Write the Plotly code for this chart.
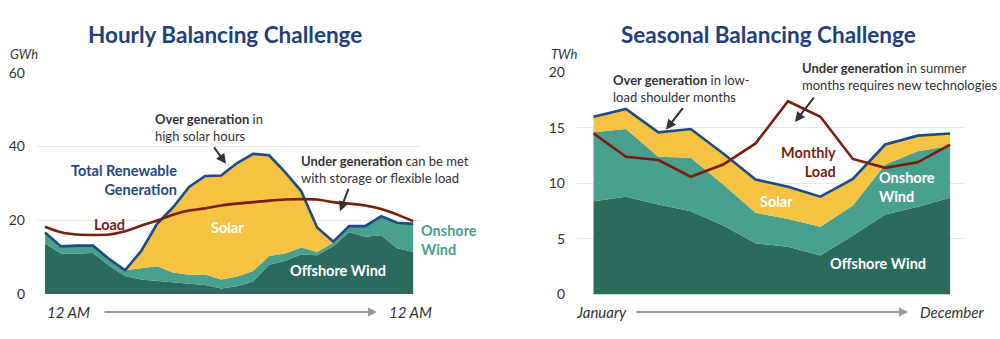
import plotly.graph_objects as go

# ---------------- data: hourly (GWh) ----------------
hours = list(range(24))
hourly_offshore = [13.7, 11.0, 11.0, 11.1, 7.7, 4.9, 3.9, 3.6, 3.3, 2.8, 2.4, 1.5,
                   2.1, 3.4, 7.9, 9.0, 10.7, 10.5, 12.9, 16.7, 15.5, 15.9, 12.4, 11.4]
hourly_onshore = [3.0, 1.9, 2.1, 2.0, 1.8, 1.5, 3.1, 3.9, 2.5, 2.4, 2.9, 2.4,
                  2.6, 2.8, 2.4, 2.0, 1.9, 0.9, 1.0, 1.7, 2.9, 5.2, 6.9, 7.6]
hourly_solar = [0, 0, 0, 0, 0, 0, 4.6, 11.5, 17.7, 23.8, 26.7, 28.2,
                30.8, 31.8, 27.3, 22.0, 15.3, 6.6, 0.3, 0, 0, 0, 0, 0]
hourly_load = [18.2, 16.7, 16.1, 16.0, 16.1, 17.0, 18.5, 19.9, 21.5, 22.6, 23.2, 24.0,
               24.5, 24.9, 25.3, 25.6, 25.7, 25.6, 24.9, 24.5, 24.0, 23.0, 21.5, 19.7]
hourly_ticks = [0, 20, 40, 60]

# ---------------- data: monthly (TWh) ----------------
months = list(range(12))
monthly_offshore = [8.4, 8.8, 8.1, 7.5, 6.2, 4.6, 4.3, 3.5, 5.3, 7.2, 7.9, 8.7]
monthly_onshore = [6.2, 6.1, 4.3, 4.8, 3.7, 2.75, 2.5, 2.6, 2.7, 4.5, 5.0, 4.7]
monthly_solar = [1.4, 1.8, 2.2, 2.6, 2.8, 3.0, 2.9, 2.7, 2.4, 1.8, 1.4, 1.1]
monthly_load = [14.5, 12.4, 12.1, 10.6, 11.7, 13.6, 17.4, 16.0, 12.2, 11.4, 11.9, 13.5]
monthly_ticks = [0, 5, 10, 15, 20]

C_OFF = "#2D6A5E"
C_ON = "#49A18D"
C_SOLAR = "#F5C241"
C_TOTAL = "#1D4B86"
C_LOAD = "#7A1E10"
C_TITLE = "#1F3F7A"
FONT = "Lato, Calibri, sans-serif"

W, H = 1000, 339


def px(x):
    return x / W


def py(y):
    return 1 - y / H


fig = go.Figure()


def add_stack(xs, off, on, sol, load, xa, ya, group, load_shape):
    for vals, col in ((off, C_OFF), (on, C_ON), (sol, C_SOLAR)):
        fig.add_trace(go.Scatter(x=xs, y=vals, stackgroup=group, mode="lines",
                                 line=dict(width=0, color=col), fillcolor=col,
                                 xaxis=xa, yaxis=ya, hoverinfo="skip"))
    total = [a + b + c for a, b, c in zip(off, on, sol)]
    fig.add_trace(go.Scatter(x=xs, y=total, mode="lines",
                             line=dict(width=2.6, color=C_TOTAL),
                             xaxis=xa, yaxis=ya, hoverinfo="skip"))
    fig.add_trace(go.Scatter(x=xs, y=load, mode="lines",
                             line=dict(width=2.6, color=C_LOAD, shape=load_shape,
                                       smoothing=0.8),
                             xaxis=xa, yaxis=ya, hoverinfo="skip"))


add_stack(hours, hourly_offshore, hourly_onshore, hourly_solar, hourly_load,
          "x", "y", "h", "spline")
add_stack(months, monthly_offshore, monthly_onshore, monthly_solar, monthly_load,
          "x2", "y2", "m", "linear")

axis_common = dict(showline=False, zeroline=False, ticks="")
fig.update_layout(
    width=W, height=H, margin=dict(l=0, r=0, t=0, b=0),
    paper_bgcolor="white", plot_bgcolor="white", showlegend=False,
    font=dict(family=FONT, color="#333333"),
    xaxis=dict(domain=[px(37), px(422)], range=[-0.5, 23.55], showgrid=False,
               showticklabels=False, **axis_common),
    yaxis=dict(domain=[py(300), py(67)], range=[0, 60], tickvals=hourly_ticks,
               showgrid=True, gridcolor="#E8E8E8", gridwidth=1,
               tickfont=dict(size=14, color="#333333", family=FONT),
               ticklabelstandoff=11, **axis_common),
    xaxis2=dict(domain=[px(577), px(965)], range=[-0.51, 11.46], showgrid=False,
                showticklabels=False, **axis_common),
    yaxis2=dict(domain=[py(300.5), py(66.7)], range=[0, 20], tickvals=monthly_ticks,
                anchor="x2", showgrid=True, gridcolor="#E8E8E8", gridwidth=1,
                tickfont=dict(size=14, color="#333333", family=FONT),
                ticklabelstandoff=11, **axis_common),
)

ann = []


def text(x, y, t, size=13, color="#333333", xanchor="center", align="center"):
    ann.append(dict(x=px(x), y=py(y), xref="paper", yref="paper", text=t,
                    showarrow=False, xanchor=xanchor, yanchor="middle", align=align,
                    font=dict(size=size, color=color, family=FONT)))


def arrow(x0, y0, x1, y1, color="#333333", width=2, head=2, size=1):
    ann.append(dict(x=px(x1), y=py(y1), xref="paper", yref="paper", text="",
                    showarrow=True, ax=x0 - x1, ay=y0 - y1, axref="pixel", ayref="pixel",
                    arrowcolor=color, arrowwidth=width, arrowhead=head, arrowsize=size))


# titles
text(225, 27, "<b>Hourly Balancing Challenge</b>", size=22.5, color=C_TITLE)
text(768, 27, "<b>Seasonal Balancing Challenge</b>", size=22.5, color=C_TITLE)
# units
text(8, 47, "<i>GWh</i>", size=13, xanchor="left")
text(549, 47, "<i>TWh</i>", size=13, xanchor="left")
# bottom axis text
text(45, 319, "<i>12 AM</i>", size=15, xanchor="left")
text(387, 319, "<i>12 AM</i>", size=15, xanchor="left")
text(574, 319, "<i>January</i>", size=15, xanchor="left")
text(918, 319, "<i>December</i>", size=15, xanchor="left")
arrow(103, 319, 377, 319, color="#9A9A9A", width=1.8, head=2, size=1)
arrow(635, 319, 908, 319, color="#9A9A9A", width=1.8, head=2, size=1)

# left chart labels
text(179, 180, "<b>Total Renewable<br>Generation</b>", size=14.5, color=C_TOTAL,
     xanchor="right", align="right")
text(92, 227, "<b>Load</b>", size=14.5, color=C_LOAD, xanchor="left")
text(227, 230, "<b>Solar</b>", size=14.5, color="white")
text(338, 275, "<b>Offshore Wind</b>", size=14.5, color="white")
text(419, 243, "<b>Onshore<br>Wind</b>", size=14.5, color=C_ON, xanchor="left",
     align="left")
text(153, 125, "<b>Over generation</b> in<br>high solar hours", size=13,
     xanchor="left", align="left")
arrow(213, 145, 226, 163)
text(299, 169, "<b>Under generation</b> can be met<br>with storage or flexible load",
     size=13, xanchor="left", align="left")
arrow(349, 189, 340, 213)

# right chart labels
text(611, 84, "<b>Over generation</b> in low-<br>load shoulder months", size=13,
     xanchor="left", align="left")
arrow(684, 104, 666, 127)
text(800, 71, "<b>Under generation</b> in summer<br>months requires new technologies",
     size=13, xanchor="left", align="left")
arrow(815, 93, 795, 119)
text(838, 161, "<b>Monthly<br>Load</b>", size=14.5, color=C_LOAD, xanchor="right",
     align="right")
text(776, 203, "<b>Solar</b>", size=14.5, color="white")
text(877, 187, "<b>Onshore<br>Wind</b>", size=14.5, color="white", xanchor="left",
     align="left")
text(878, 268, "<b>Offshore Wind</b>", size=14.5, color="white")

fig.update_layout(annotations=ann)
fig.write_html("out.html")
